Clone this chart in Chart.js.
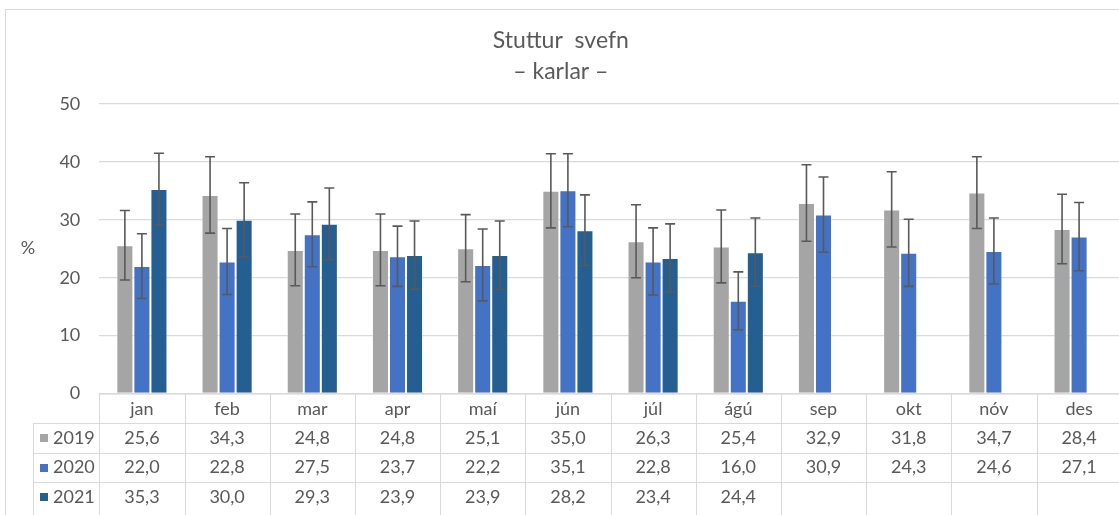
<!DOCTYPE html>
<html>
<head>
<meta charset="utf-8">
<script src="https://cdn.jsdelivr.net/npm/chart.js@4"></script>
<style>
html,body{margin:0;padding:0;background:#fff;overflow:hidden;width:1119px;height:515px;}
canvas{display:block;}
</style>
</head>
<body>
<canvas id="c" width="1135" height="530"></canvas>
<script>
const categories = ['jan','feb','mar','apr','maí','jún','júl','ágú','sep','okt','nóv','des'];
const seriesLabels = ['2019','2020','2021'];
const values2019 = [25.6,34.3,24.8,24.8,25.1,35.0,26.3,25.4,32.9,31.8,34.7,28.4];
const values2020 = [22.0,22.8,27.5,23.7,22.2,35.1,22.8,16.0,30.9,24.3,24.6,27.1];
const values2021 = [35.3,30.0,29.3,23.9,23.9,28.2,23.4,24.4,null,null,null,null];
const err2019 = [6.0,6.6,6.2,6.2,5.8,6.4,6.3,6.3,6.6,6.5,6.2,6.0];
const err2020 = [5.6,5.7,5.6,5.2,6.2,6.3,5.8,5.0,6.5,5.8,5.7,5.9];
const err2021 = [6.2,6.4,6.2,5.9,5.9,6.1,5.9,5.9,null,null,null,null];
const yTickValues = [0,10,20,30,40,50];
const titleLines = ['Stuttur  svefn','– karlar –'];
const yUnit = '%';

const colors = ['#a5a5a5','#4472c4','#255e91'];
const allValues = [values2019, values2020, values2021];
const allErrors = [err2019, err2020, err2021];
const FONT = 'Lato, "Open Sans", sans-serif';
const TXT = '#595959';
const GRID = '#d9d9d9';

const fmt = v => (v === null || v === undefined) ? '' : v.toFixed(1).replace('.', ',');

const errorBarPlugin = {
  id: 'errorBars',
  afterDatasetsDraw(chart) {
    const ctx = chart.ctx;
    const y = chart.scales.y;
    ctx.save();
    ctx.strokeStyle = '#595959';
    ctx.lineWidth = 1.6;
    chart.data.datasets.forEach((ds, di) => {
      const meta = chart.getDatasetMeta(di);
      meta.data.forEach((bar, i) => {
        const v = ds.data[i];
        const e = allErrors[di][i];
        if (v === null || e === null) return;
        const x = bar.x;
        const yt = y.getPixelForValue(v + e);
        const yb = y.getPixelForValue(v - e);
        ctx.beginPath();
        ctx.moveTo(x, yt); ctx.lineTo(x, yb);
        ctx.moveTo(x - 5, yt); ctx.lineTo(x + 5, yt);
        ctx.moveTo(x - 5, yb); ctx.lineTo(x + 5, yb);
        ctx.stroke();
      });
    });
    ctx.restore();
  }
};

const tablePlugin = {
  id: 'dataTable',
  afterDraw(chart) {
    const ctx = chart.ctx;
    const area = chart.chartArea;
    const n = categories.length;
    const colW = (area.right - area.left) / n;
    const top = area.bottom + 0.5;
    const rowH = 29.4;
    const legendLeft = 33;
    ctx.save();
    ctx.strokeStyle = GRID;
    ctx.lineWidth = 1;
    ctx.strokeRect(5.5, 9.5, 1400, 600);
    ctx.beginPath();
    ctx.moveTo(area.left, top); ctx.lineTo(area.right, top);
    for (let r = 1; r <= 3; r++) {
      const yy = Math.round(top + r * rowH) + 0.5;
      ctx.moveTo(legendLeft, yy); ctx.lineTo(area.right, yy);
    }
    for (let i = 0; i <= n; i++) {
      const xx = Math.round(area.left + i * colW) + 0.5;
      ctx.moveTo(xx, top); ctx.lineTo(xx, top + 4 * rowH + 20);
    }
    ctx.moveTo(legendLeft + 0.5, top + rowH); ctx.lineTo(legendLeft + 0.5, top + 4 * rowH + 20);
    ctx.stroke();
    ctx.fillStyle = TXT;
    ctx.font = '18px ' + FONT;
    ctx.textAlign = 'center';
    ctx.textBaseline = 'middle';
    categories.forEach((c, i) => {
      ctx.fillText(c, area.left + (i + 0.5) * colW, top + rowH / 2);
    });
    allValues.forEach((vals, si) => {
      const cy = top + (si + 1.5) * rowH;
      vals.forEach((v, i) => {
        ctx.fillText(fmt(v), area.left + (i + 0.5) * colW, cy);
      });
      ctx.fillStyle = colors[si];
      ctx.fillRect(40, Math.round(cy - 4), 8, 8);
      ctx.fillStyle = TXT;
      ctx.textAlign = 'left';
      ctx.fillText(seriesLabels[si], 53, cy);
      ctx.textAlign = 'center';
    });
    ctx.textAlign = 'center';
    ctx.fillText(yUnit, 28, 248);
    ctx.restore();
  }
};

new Chart(document.getElementById('c'), {
  type: 'bar',
  data: {
    labels: categories,
    datasets: seriesLabels.map((s, i) => ({
      label: s,
      data: allValues[i],
      backgroundColor: colors[i],
      borderColor: 'rgba(255,255,255,0.45)',
      borderWidth: 1,
      categoryPercentage: 0.6,
      barPercentage: 1.0
    }))
  },
  options: {
    responsive: false,
    animation: false,
    layout: { padding: { left: 0, right: 13.3, top: 0, bottom: 136.5 } },
    plugins: {
      legend: { display: false },
      tooltip: { enabled: false },
      title: {
        display: true,
        text: titleLines,
        color: TXT,
        font: { family: FONT, size: 23, weight: 'normal', lineHeight: 1.35 },
        padding: { top: 25.5, bottom: 16.4 }
      }
    },
    scales: {
      x: { display: false },
      y: {
        min: 0, max: 50,
        afterBuildTicks(scale) { scale.ticks = yTickValues.map(v => ({ value: v })); },
        afterFit(scale) { scale.width = 99.3; },
        border: { display: false },
        grid: { color: GRID, lineWidth: 1.3, drawTicks: false },
        ticks: { color: TXT, padding: 19, font: { family: FONT, size: 18 } }
      }
    }
  },
  plugins: [errorBarPlugin, tablePlugin]
});
</script>
</body>
</html>
